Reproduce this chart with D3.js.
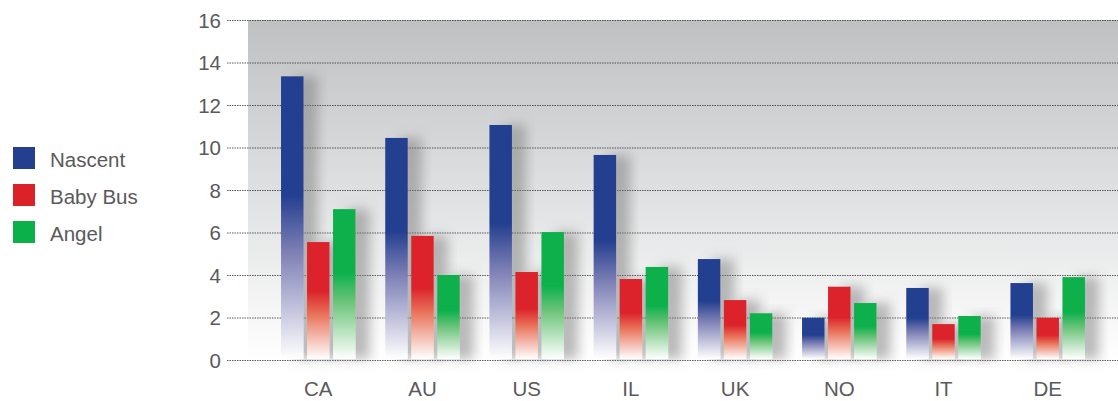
<!DOCTYPE html>
<html><head><meta charset="utf-8">
<script src="https://cdn.jsdelivr.net/npm/d3@7"></script>
<style>body{margin:0;background:#fff;font-family:Arial,"Liberation Sans",sans-serif;}</style>
</head><body>
<svg id="c" width="1118" height="401"></svg>
<script>
const categories = ["CA","AU","US","IL","UK","NO","IT","DE"];
const seriesNames = ["Nascent","Baby Bus","Angel"];
const seriesColors = ["#243f8f","#dc2229","#0bb04b"];
const nascent = [13.35,10.45,11.06,9.65,4.75,1.99,3.39,3.62];
const babyBus = [5.55,5.84,4.14,3.81,2.82,3.45,1.69,1.99];
const angel = [7.1,4.0,6.02,4.38,2.2,2.68,2.07,3.9];
const yTicks = [0,2,4,6,8,10,12,14,16];

const seriesValues = [nascent, babyBus, angel];
const svg = d3.select("#c");
const defs = svg.append("defs");
const FONT = "Arial,'Liberation Sans',sans-serif";

const x = d3.scaleBand().domain(categories).range([248,1118]).paddingInner(0.285).paddingOuter(0.317);
const xs = d3.scaleBand().domain(seriesNames).range([0,x.bandwidth()]).paddingInner(0.135);
const y = d3.scaleLinear().domain([0,16]).range([360,20]);

// background gradient
const bg = defs.append("linearGradient").attr("id","bg").attr("x1",0).attr("y1",0).attr("x2",0).attr("y2",1);
bg.append("stop").attr("offset","0%").attr("stop-color","#bfc0c2");
bg.append("stop").attr("offset","55%").attr("stop-color","#e2e3e4");
bg.append("stop").attr("offset","100%").attr("stop-color","#ffffff");
svg.append("rect").attr("x",248).attr("y",y(16)).attr("width",1118-248).attr("height",y(0)-y(16)+2).attr("fill","url(#bg)");

// bar gradients
seriesColors.forEach((c,i)=>{
  const g = defs.append("linearGradient").attr("id","g"+i).attr("x1",0).attr("y1",0).attr("x2",0).attr("y2",1);
  g.append("stop").attr("offset","0%").attr("stop-color",c);
  g.append("stop").attr("offset","42%").attr("stop-color",c);
  const light = i===0 ? "#7d7fb5" : (i===1 ? "#e9735a" : "#6cc47a");
  g.append("stop").attr("offset","62%").attr("stop-color",light);
  g.append("stop").attr("offset","100%").attr("stop-color","#ffffff");
});

const f = defs.append("filter").attr("id","sh").attr("x","-50%").attr("y","-20%").attr("width","250%").attr("height","140%");
f.append("feDropShadow").attr("dx",14).attr("dy",0).attr("stdDeviation",6).attr("flood-color","#777").attr("flood-opacity",0.5);

// gridlines
svg.append("g").selectAll("line").data(yTicks).join("line")
  .attr("x1",227).attr("x2",1118).attr("y1",d=>y(d)+0.5).attr("y2",d=>y(d)+0.5)
  .attr("stroke","#333").attr("stroke-width",1).attr("stroke-dasharray","1.5,1").attr("opacity",0.8);

const yAxis = d3.axisLeft(y).tickValues(yTicks).tickSize(0).tickPadding(0);
const ya = svg.append("g").attr("transform","translate(221,0)").call(yAxis);
ya.select(".domain").remove();
ya.selectAll("text").attr("font-size",20.5).attr("fill","#5a5a5a").attr("font-family",FONT).attr("dy","0.35em");

// bars
const groups = svg.append("g").selectAll("g").data(categories).join("g")
  .attr("transform",d=>`translate(${x(d)},0)`);
groups.selectAll("rect").data((d,ci)=>seriesNames.map((s,si)=>({s,si,v:seriesValues[si][ci]}))).join("rect")
  .attr("x",d=>xs(d.s)).attr("width",xs.bandwidth())
  .attr("y",d=>y(d.v)).attr("height",d=>y(0)-y(d.v)-1)
  .attr("fill",d=>`url(#g${d.si})`).attr("filter","url(#sh)");

// x axis labels
const xa = svg.append("g").attr("transform","translate(0,389)").call(d3.axisBottom(x).tickSize(0).tickPadding(0));
xa.select(".domain").remove();
xa.selectAll("text").attr("font-size",20.5).attr("fill","#5a5a5a").attr("font-family",FONT).attr("dy","0.35em");

// legend
const lg = svg.append("g").selectAll("g").data(seriesNames).join("g")
  .attr("transform",(d,i)=>`translate(13,${147+i*37})`);
lg.append("rect").attr("width",22).attr("height",22).attr("fill",(d,i)=>seriesColors[i]);
lg.append("text").attr("x",37).attr("y",12.5).attr("dy","0.35em").attr("font-size",20.5).attr("fill","#5a5a5a").attr("font-family",FONT).text(d=>d);
</script>
</body></html>
